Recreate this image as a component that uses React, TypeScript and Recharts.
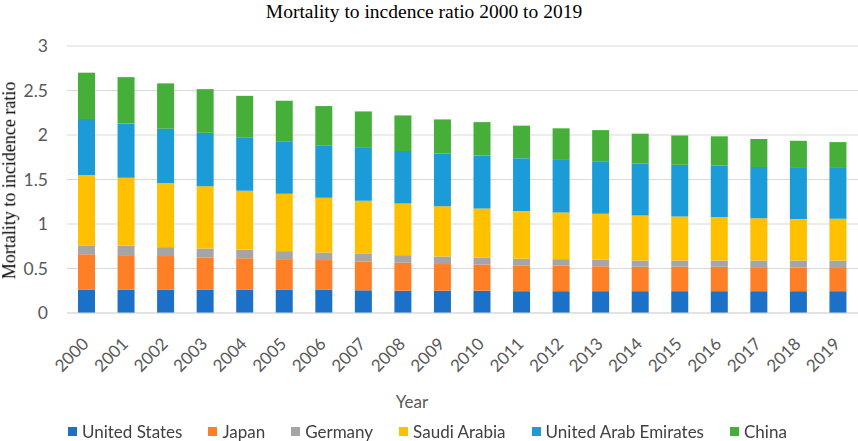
import React from 'react';
import { BarChart, Bar, XAxis, YAxis, CartesianGrid } from 'recharts';

const years = [
  '2000', '2001', '2002', '2003', '2004', '2005', '2006', '2007', '2008', '2009',
  '2010', '2011', '2012', '2013', '2014', '2015', '2016', '2017', '2018', '2019',
];

const unitedStates = [0.26, 0.26, 0.26, 0.26, 0.26, 0.26, 0.26, 0.255, 0.25, 0.25, 0.25, 0.245, 0.245, 0.245, 0.245, 0.245, 0.245, 0.245, 0.245, 0.245];
const japan = [0.4, 0.39, 0.38, 0.365, 0.355, 0.345, 0.335, 0.325, 0.315, 0.3, 0.295, 0.29, 0.29, 0.28, 0.275, 0.275, 0.275, 0.27, 0.265, 0.26];
const germany = [0.1, 0.105, 0.1, 0.1, 0.095, 0.09, 0.085, 0.09, 0.085, 0.085, 0.075, 0.075, 0.07, 0.075, 0.07, 0.07, 0.07, 0.075, 0.08, 0.085];
const saudiArabia = [0.79, 0.765, 0.72, 0.7, 0.665, 0.645, 0.615, 0.59, 0.58, 0.565, 0.555, 0.535, 0.525, 0.515, 0.505, 0.495, 0.485, 0.475, 0.465, 0.47];
const uae = [0.63, 0.61, 0.61, 0.6, 0.6, 0.59, 0.59, 0.595, 0.59, 0.59, 0.595, 0.595, 0.59, 0.59, 0.585, 0.58, 0.58, 0.575, 0.575, 0.57];
const china = [0.52, 0.52, 0.51, 0.49, 0.465, 0.455, 0.44, 0.41, 0.4, 0.385, 0.375, 0.365, 0.355, 0.35, 0.335, 0.33, 0.33, 0.315, 0.305, 0.29];

const yTicks = [0, 0.5, 1, 1.5, 2, 2.5, 3];

const series = [
  { key: 'us', name: 'United States', color: '#1B70C8', values: unitedStates },
  { key: 'jp', name: 'Japan', color: '#FF7F27', values: japan },
  { key: 'de', name: 'Germany', color: '#A5A5A5', values: germany },
  { key: 'sa', name: 'Saudi Arabia', color: '#FFC000', values: saudiArabia },
  { key: 'ae', name: 'United Arab Emirates', color: '#1B9CD8', values: uae },
  { key: 'cn', name: 'China', color: '#45AF3A', values: china },
];

const data = years.map((year, i) => {
  const row: Record<string, string | number> = { year };
  series.forEach((s) => {
    row[s.key] = s.values[i];
  });
  return row;
});

const FONT = 'Lato, "Open Sans", sans-serif';
const SERIF = '"Liberation Serif", "Times New Roman", serif';

const YearTick = ({ x, y, payload }: any) => (
  <g transform={`translate(${x + 3},${y + 24})`}>
    <text x={0} y={0} textAnchor="end" transform="rotate(-45)" fill="#595959" fontSize={17} fontFamily={FONT}>
      {payload.value}
    </text>
  </g>
);

export default function App() {
  return (
    <div style={{ position: 'fixed', left: 0, top: 0, width: 858, height: 441, background: '#fff' }}>
      <div
        style={{
          position: 'absolute', left: 0, width: 848, top: 1, textAlign: 'center',
          fontFamily: SERIF, fontSize: 19.5, color: '#000',
        }}
      >
        Mortality to incdence ratio 2000 to 2019
      </div>
      <BarChart
        width={858}
        height={441}
        data={data}
        margin={{ top: 46, right: 0, left: 0, bottom: 68 }}
        barSize={17}
      >
        <CartesianGrid vertical={false} stroke="#D9D9D9" />
        <XAxis
          dataKey="year"
          height={60}
          interval={0}
          tickLine={false}
          axisLine={{ stroke: '#D9D9D9' }}
          tick={<YearTick />}
        />
        <YAxis
          width={67}
          domain={[0, 3]}
          ticks={yTicks}
          tickLine={false}
          axisLine={false}
          tickMargin={13}
          tick={{ fill: '#595959', fontSize: 17.5, fontFamily: FONT }}
        />
        {series.map((s) => (
          <Bar key={s.key} dataKey={s.key} name={s.name} stackId="a" fill={s.color} isAnimationActive={false} />
        ))}
      </BarChart>
      <div
        style={{
          position: 'absolute', left: 0, top: 80, width: 20, height: 200,
          display: 'flex', alignItems: 'center', justifyContent: 'center',
        }}
      >
        <div style={{ transform: 'rotate(-90deg)', whiteSpace: 'nowrap', fontFamily: SERIF, fontSize: 18, color: '#000' }}>
          Mortality to incidence ratio
        </div>
      </div>
      <div
        style={{
          position: 'absolute', left: 362, width: 100, top: 391, textAlign: 'center',
          fontFamily: FONT, fontSize: 17, color: '#595959',
        }}
      >
        Year
      </div>
      <div
        style={{
          position: 'absolute', left: 68, top: 421, display: 'flex', gap: 26,
          fontFamily: FONT, fontSize: 17, color: '#404040', whiteSpace: 'nowrap',
        }}
      >
        {series.map((s) => (
          <div key={s.key} style={{ display: 'flex', alignItems: 'center', gap: 5 }}>
            <span style={{ width: 9, height: 9, background: s.color, display: 'inline-block' }} />
            <span>{s.name}</span>
          </div>
        ))}
      </div>
    </div>
  );
}
